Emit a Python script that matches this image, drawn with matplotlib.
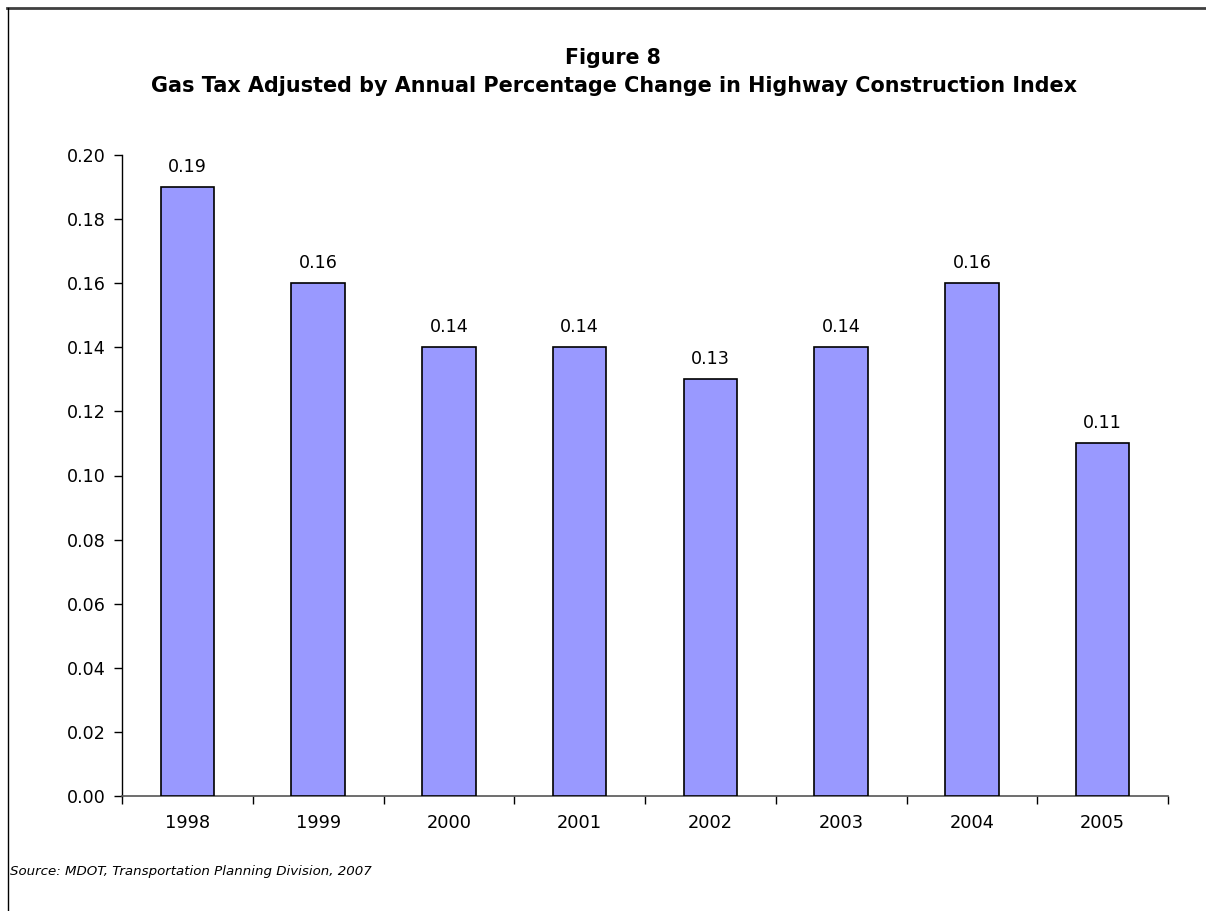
import matplotlib
matplotlib.use("Agg")
import matplotlib.pyplot as plt
import numpy as np
from matplotlib.lines import Line2D

years = ["1998", "1999", "2000", "2001", "2002", "2003", "2004", "2005"]
values = [0.19, 0.16, 0.14, 0.14, 0.13, 0.14, 0.16, 0.11]
yticks = [0.00, 0.02, 0.04, 0.06, 0.08, 0.10, 0.12, 0.14, 0.16, 0.18, 0.20]
title_line1 = "Figure 8"
title_line2 = "Gas Tax Adjusted by Annual Percentage Change in Highway Construction Index"
source = "Source: MDOT, Transportation Planning Division, 2007"

plt.rcParams['font.family'] = ['DejaVu Sans']

W, H = 1206, 911
fig = plt.figure(figsize=(W / 100, H / 100), dpi=100)
fig.patch.set_facecolor("white")

ax = fig.add_axes([122 / W, 1 - 796 / H, (1168 - 122) / W, (796 - 155) / H])
x = np.arange(len(years))
bars = ax.bar(x, values, width=0.41, color="#9999FF", edgecolor="black", linewidth=1.2, zorder=3)

ax.set_xlim(-0.5, len(years) - 0.5)
ax.set_ylim(0, 0.20)
ax.set_yticks(yticks)
ax.set_yticklabels([f"{v:.2f}" for v in yticks], fontsize=12.6)
ax.set_xticks(x)
ax.set_xticklabels(years, fontsize=12.8)
ax.set_xticks(np.arange(-0.5, len(years)), minor=True)
ax.tick_params(axis="x", which="major", length=0, pad=13)
ax.tick_params(axis="x", which="minor", length=6, width=1, color="black", direction="out")
ax.tick_params(axis="y", which="major", length=6, width=1, direction="out", pad=6)

for s in ["top", "right"]:
    ax.spines[s].set_visible(False)
ax.spines["left"].set_color("black")
ax.spines["left"].set_linewidth(1)
ax.spines["bottom"].set_color("#555555")
ax.spines["bottom"].set_linewidth(1.2)

for xi, v in zip(x, values):
    ax.annotate(f"{v:.2f}", (xi, v), xytext=(0, 8), textcoords="offset points",
                ha="center", va="bottom", fontsize=12.6)

fig.text(613 / W, 1 - 58 / H, title_line1, ha="center", va="center", fontsize=14.8, fontweight="bold")
fig.text(614 / W, 1 - 86 / H, title_line2, ha="center", va="center", fontsize=14.95, fontweight="bold")
fig.text(10 / W, 1 - 872 / H, source, ha="left", va="center", fontsize=9.6, fontstyle="italic")

# Figure frame (top and left)
fig.add_artist(Line2D([7 / W, 1.0], [1 - 7.5 / H, 1 - 7.5 / H], transform=fig.transFigure,
                      color="#404040", linewidth=2))
fig.add_artist(Line2D([7.5 / W, 7.5 / W], [1 - 7.5 / H, 0.0], transform=fig.transFigure,
                      color="black", linewidth=1))

fig.savefig("out.png", dpi=100)
